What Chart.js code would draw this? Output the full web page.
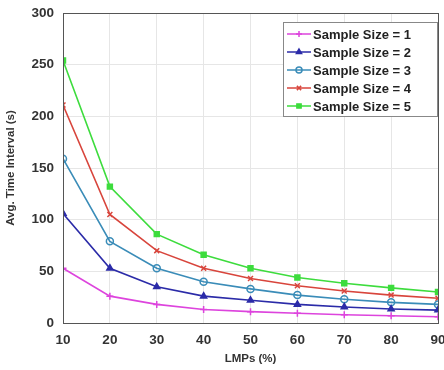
<!DOCTYPE html>
<html>
<head>
<meta charset="utf-8">
<script src="https://cdn.jsdelivr.net/npm/chart.js@4/dist/chart.umd.min.js"></script>
<style>
  html, body { margin: 0; padding: 0; background: #fff; }
  #wrap { width: 444px; height: 370px; }
</style>
</head>
<body>
<div id="wrap"><canvas id="lineChart" width="444" height="370"></canvas></div>
<script>
    var lmps = [10, 20, 30, 40, 50, 60, 70, 80, 90];
    var size1 = [53, 26, 18, 13, 11, 9.5, 8, 7, 6];
    var size2 = [106, 53, 35, 26, 22, 18, 15.5, 13.5, 12.5];
    var size3 = [159, 79, 53, 40, 33, 27, 23, 20, 18];
    var size4 = [211, 105, 70, 53, 43, 36, 31, 27, 24];
    var size5 = [254, 132, 86, 66, 53, 44, 38.5, 34, 30];
    var seriesNames = ['Sample Size = 1', 'Sample Size = 2', 'Sample Size = 3', 'Sample Size = 4', 'Sample Size = 5'];
    var yTicks = [0, 50, 100, 150, 200, 250, 300];

    function pts(vals) {
        return vals.map(function (v, i) { return { x: lmps[i], y: v }; });
    }

    var fontFam = '"Liberation Sans", Arial, sans-serif';

    // legend drawn inside the plot, top right, with a box like the figure
    var boxLegend = {
        id: 'boxLegend',
        afterDraw: function (chart) {
            var ctx = chart.ctx;
            var area = chart.chartArea;
            var sets = chart.data.datasets;
            var w = 154, rowH = 18;
            var h = sets.length * rowH + 4;
            var x0 = area.right - w - 1, y0 = area.top + 9;
            ctx.save();
            ctx.fillStyle = '#fff';
            ctx.fillRect(x0, y0, w, h);
            ctx.strokeStyle = '#888';
            ctx.lineWidth = 1;
            ctx.strokeRect(x0 + 0.5, y0 + 0.5, w, h);
            ctx.font = 'bold 13px ' + fontFam;
            ctx.textBaseline = 'middle';
            sets.forEach(function (ds, i) {
                var cy = y0 + 3 + rowH * i + rowH / 2;
                ctx.strokeStyle = ds.borderColor;
                ctx.lineWidth = 1.5;
                ctx.beginPath();
                ctx.moveTo(x0 + 4, cy);
                ctx.lineTo(x0 + 28, cy);
                ctx.stroke();
                ctx.fillStyle = ds.pointBackgroundColor;
                Chart.helpers.drawPoint(ctx, {
                    pointStyle: ds.pointStyle,
                    radius: 3,
                    borderWidth: 1.5
                }, x0 + 16, cy);
                ctx.fillStyle = '#222';
                ctx.fillText(ds.label, x0 + 30, cy + 1);
            });
            ctx.restore();
        }
    };

    // dark frame round the plot area
    var frame = {
        id: 'frame',
        afterDatasetsDraw: function (chart) {
            var a = chart.chartArea;
            var ctx = chart.ctx;
            ctx.save();
            ctx.strokeStyle = '#555';
            ctx.lineWidth = 1;
            ctx.strokeRect(a.left + 0.5, a.top + 0.5, a.right - a.left, a.bottom - a.top);
            ctx.restore();
        }
    };

    var colors = ['#dd44dd', '#2b2ba8', '#3a8cb8', '#d8453c', '#3ddc3d'];
    var styles = ['cross', 'triangle', 'circle', 'crossRot', 'rect'];
    var fills = ['#dd44dd', '#2b2ba8', 'rgba(255,255,255,0)', '#d8453c', '#3ddc3d'];
    var allVals = [size1, size2, size3, size4, size5];

    var ctx = document.getElementById('lineChart').getContext('2d');
    var myChart = new Chart(ctx, {
        type: 'line',
        data: {
            datasets: allVals.map(function (vals, i) {
                return {
                    label: seriesNames[i],
                    data: pts(vals),
                    borderColor: colors[i],
                    backgroundColor: colors[i],
                    pointStyle: styles[i],
                    pointBackgroundColor: fills[i],
                    pointBorderColor: colors[i],
                    pointRadius: 3.5,
                    pointBorderWidth: 1.5,
                    borderWidth: 1.6,
                    tension: 0
                };
            })
        },
        options: {
            responsive: false,
            animation: false,
            layout: { padding: { top: 13, right: 6, left: 0, bottom: 0 } },
            plugins: {
                legend: { display: false },
                tooltip: { enabled: false }
            },
            scales: {
                x: {
                    type: 'linear',
                    min: 10, max: 90,
                    afterBuildTicks: function (s) { s.ticks = lmps.map(function (v) { return { value: v }; }); },
                    afterFit: function (s) { s.height = 47; s.paddingRight = 0; },
                    grid: { color: '#e6e6e6', drawTicks: false },
                    border: { color: '#555' },
                    ticks: { color: '#333', padding: 9, font: { family: fontFam, size: 13.5, weight: 'bold' } },
                    title: { display: true, text: 'LMPs (%)', color: '#333', padding: { top: 0 }, font: { family: fontFam, size: 11.5, weight: 'bold' } }
                },
                y: {
                    min: 0, max: 300,
                    afterBuildTicks: function (s) { s.ticks = yTicks.map(function (v) { return { value: v }; }); },
                    afterFit: function (s) { s.width = 63; s.paddingTop = 0; s.paddingBottom = 0; },
                    grid: { color: '#e6e6e6', drawTicks: false },
                    border: { color: '#555' },
                    ticks: { color: '#333', padding: 9, font: { family: fontFam, size: 13.5, weight: 'bold' } },
                    title: { display: true, text: 'Avg. Time Interval (s)', color: '#333', padding: { bottom: 2 }, font: { family: fontFam, size: 11.5, weight: 'bold' } }
                }
            }
        },
        plugins: [frame, boxLegend]
    });
</script>
</body>
</html>
